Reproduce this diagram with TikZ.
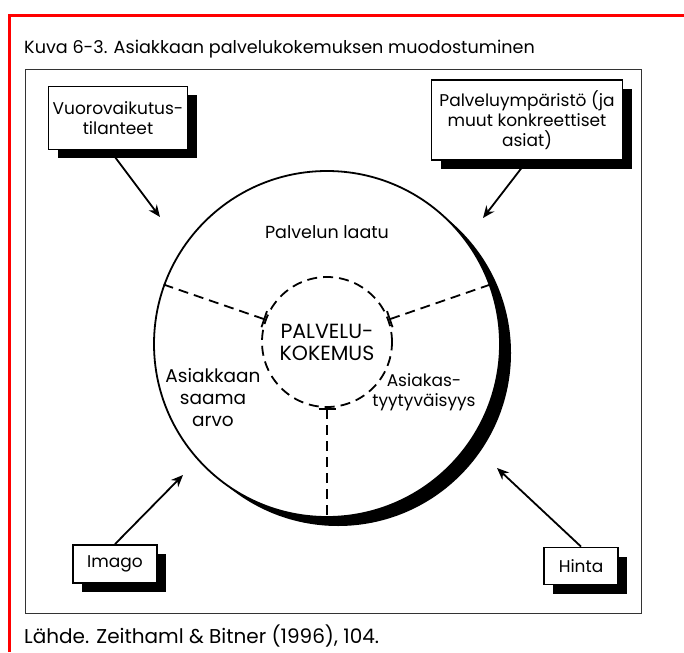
\documentclass[tikz,border=0pt]{standalone}
\usepackage{fontspec}
\setmainfont{Poppins}
\usetikzlibrary{arrows.meta,shadows}

\begin{document}
\begin{tikzpicture}[x=1pt, y=-1pt, line width=1.8pt,
    every node/.style={font=\fontsize{17}{20}\selectfont},
    box/.style={draw, fill=white, inner sep=0pt, align=center,
        drop shadow={shadow xshift=9pt, shadow yshift=-9pt, fill=black, opacity=1}},
    arr/.style={-{Stealth[length=12pt, width=10pt]}},
    part/.style={dash pattern=on 10pt off 6pt}]

    \path[use as bounding box, fill=white] (0,0) rectangle (684,652);

    % Draw the red border and the frame
    \draw[red, line width=3pt] (9,652) -- (9,16) -- (684,16);
    \draw[line width=1pt, black!80] (25,70) rectangle (641,613);

    \node[anchor=base west, font=\fontsize{17.6}{20}\selectfont] (title) at (20,54) {Kuva 6-3. Asiakkaan palvelukokemuksen muodostuminen};
    \node[anchor=base west, font=\fontsize{20}{24}\selectfont] (source) at (20,643) {Lähde. Zeithaml \& Bitner (1996), 104.};

    % Draw the circles
    \node[draw, circle, fill=white, minimum size=346pt, inner sep=0pt,
        drop shadow={shadow xshift=11pt, shadow yshift=-9pt, fill=black, opacity=1}] (outer) at (327,344) {};
    \node[draw, circle, part, minimum size=130pt, inner sep=0pt, align=center,
        font=\fontsize{20.5}{22}\selectfont] (core) at (327,342) {PALVELU-\\KOKEMUS};

    % Draw the lines between the parts
    \draw[part, {Bar[width=17pt]}-] (core.20) -- (outer.20);
    \draw[part, {Bar[width=17pt]}-] (core.160) -- (outer.160);
    \draw[part, {Bar[width=17pt]}-] (core.270) -- (outer.270);

    \node[font=\fontsize{17.5}{20}\selectfont] (laatu) at (327,232) {Palvelun laatu};
    \node[align=center, font=\fontsize{18.5}{22}\selectfont] (arvo) at (213,398) {Asiakkaan\\saama\\arvo};
    \node[align=center] (tyyty) at (424,392) {Asiakas-\\tyytyväisyys};

    % Draw the boxes
    \node[box, minimum width=139pt, minimum height=63pt] (vuoro) at (118,118) {Vuorovaikutus-\\tilanteet};
    \node[box, minimum width=191pt, minimum height=80pt] (ymp) at (527,120) {Palveluympäristö (ja\\muut konkreettiset\\asiat)};
    \node[box, minimum width=84pt, minimum height=38pt] (imago) at (115,564) {Imago};
    \node[box, minimum width=74pt, minimum height=37pt] (hinta) at (581,566) {Hinta};

    % Draw the arrows
    \coordinate (vuoroend) at (160,217);
    \coordinate (ympend) at (483,218);
    \coordinate (imagoend) at (183,475);
    \coordinate (hintaend) at (497,468);

    \draw[arr] ([xshift=-8pt]vuoro.south) -- (vuoroend);
    \draw[arr] (ymp.south) -- (ympend);
    \draw[arr] (imago.north) -- (imagoend);
    \draw[arr] (hinta.north) -- (hintaend);

\end{tikzpicture}
\end{document}
